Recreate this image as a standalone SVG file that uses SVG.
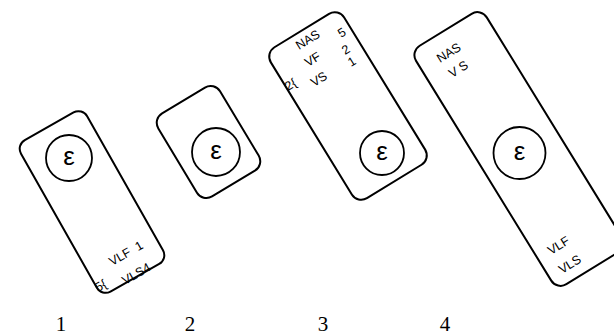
<svg xmlns="http://www.w3.org/2000/svg" width="614" height="335" viewBox="0 0 614 335">
<style>
.card{fill:none;stroke:#000;stroke-width:2}
.ring{fill:none;stroke:#000;stroke-width:1.8}
.eps{font-family:"Liberation Sans","DejaVu Sans",sans-serif;font-size:26px;text-anchor:middle;fill:#000}
.lbl{font-family:"Liberation Sans","DejaVu Sans",sans-serif;font-size:12.5px;fill:#000}
.num{font-family:"Liberation Serif","DejaVu Serif",serif;font-size:21px;text-anchor:middle;fill:#000}
</style>
<rect width="614" height="335" fill="#fff"/>
<g id="connectors"/>
<g id="node1">
  <rect class="card" x="-38" y="-87" width="76" height="174" rx="10" transform="translate(92,202) rotate(-29.5)"/>
  <circle class="ring" cx="69" cy="158" r="23"/>
  <text class="eps" x="69" y="165">ε</text>
  <text class="lbl" transform="translate(112,266) rotate(-29.5)" xml:space="preserve">VLF  1</text>
  <text class="lbl" transform="translate(125,285) rotate(-29.5)">VLS4</text>
  <text class="lbl" transform="translate(98,292) rotate(-29.5)">5{</text>
</g>
<g id="node2">
  <rect class="card" x="-36" y="-48.5" width="72" height="97" rx="11" transform="translate(208.5,142) rotate(-31)"/>
  <circle class="ring" cx="216" cy="152" r="24"/>
  <text class="eps" x="216" y="159">ε</text>
</g>
<g id="node3">
  <rect class="card" x="-43" y="-88.5" width="86" height="177" rx="11" transform="translate(348,106) rotate(-31.5)"/>
  <circle class="ring" cx="382" cy="153" r="22"/>
  <text class="eps" x="382" y="160">ε</text>
  <text class="lbl" transform="translate(299,50) rotate(-31.5)">NAS</text>
  <text class="lbl" transform="translate(341,38) rotate(-31.5)">5</text>
  <text class="lbl" transform="translate(308,67) rotate(-31.5)">VF</text>
  <text class="lbl" transform="translate(345,55) rotate(-31.5)">2</text>
  <text class="lbl" transform="translate(314,87) rotate(-31.5)">VS</text>
  <text class="lbl" transform="translate(351,67) rotate(-31.5)">1</text>
  <text class="lbl" transform="translate(288,91) rotate(-31.5)">2{</text>
</g>
<g id="node4">
  <rect class="card" x="-41.5" y="-140" width="83" height="280" rx="11" transform="translate(519,149) rotate(-31.6)"/>
  <circle class="ring" cx="519.5" cy="153" r="26"/>
  <text class="eps" x="519.5" y="160">ε</text>
  <text class="lbl" transform="translate(440,63) rotate(-31.6)">NAS</text>
  <text class="lbl" transform="translate(452,78) rotate(-31.6)" xml:space="preserve">V S</text>
  <text class="lbl" transform="translate(551,255) rotate(-31.6)">VLF</text>
  <text class="lbl" transform="translate(562,274) rotate(-31.6)">VLS</text>
</g>
<g id="labels">
  <text class="num" x="61" y="331">1</text>
  <text class="num" x="190" y="331">2</text>
  <text class="num" x="323" y="331">3</text>
  <text class="num" x="445" y="331">4</text>
</g>
</svg>
